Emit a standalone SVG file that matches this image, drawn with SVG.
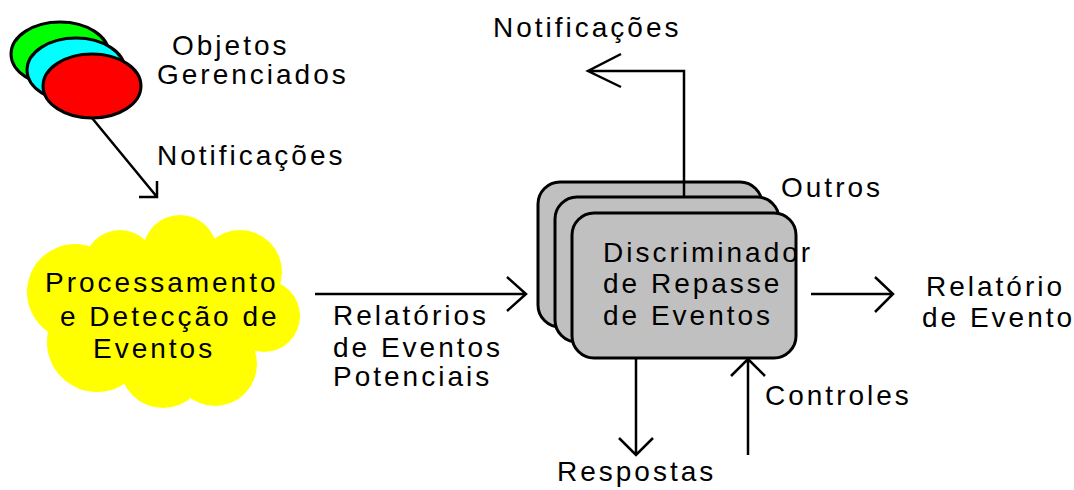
<svg xmlns="http://www.w3.org/2000/svg" width="1074" height="490" viewBox="0 0 1074 490">
<style>
text{font-family:"Liberation Sans",Arial,sans-serif;font-size:28px;letter-spacing:3px;fill:#000}
.ln{stroke:#000;stroke-width:2.5;fill:none}
.ell{stroke:#000;stroke-width:3}
.box{fill:#c0c0c0;stroke:#000;stroke-width:3}
.cl{fill:#ffff00}
</style>
<rect width="1074" height="490" fill="#fff"/>
<g id="objetos">
<ellipse class="ell" cx="60" cy="54" rx="49" ry="32" fill="#00ff00"/>
<ellipse class="ell" cx="76" cy="70" rx="49" ry="32" fill="#00ffff"/>
<ellipse class="ell" cx="92" cy="86" rx="49" ry="32" fill="#ff0000"/>
<text x="172" y="55">Objetos</text>
<text x="157" y="84">Gerenciados</text>
</g>
<g id="processamento">
<g class="cl">
<circle cx="180" cy="252" r="37"/>
<circle cx="120" cy="266" r="36"/>
<circle cx="75" cy="292" r="48"/>
<circle cx="240" cy="272" r="42"/>
<circle cx="264" cy="316" r="36"/>
<circle cx="215" cy="364" r="42"/>
<circle cx="163" cy="365" r="43"/>
<circle cx="97" cy="342" r="50"/>
<ellipse cx="170" cy="310" rx="100" ry="60"/>
</g>
<text x="45" y="292">Processamento</text>
<text x="60" y="326">e Detecção de</text>
<text x="93" y="358">Eventos</text>
</g>
<g id="discriminador">
<rect class="box" x="538" y="182" width="224" height="145" rx="22"/>
<rect class="box" x="555" y="197" width="224" height="145" rx="22"/>
<rect class="box" x="572" y="213" width="224" height="145" rx="22"/>
<text x="603" y="262">Discriminador</text>
<text x="603" y="293">de Repasse</text>
<text x="603" y="325">de Eventos</text>
</g>
<g id="connectors">
<path class="ln" d="M92,118 L157,197 M139,197 H157 V181"/>
<path class="ln" d="M315,294 H526 M507,277 L526,294 L507,311"/>
<path class="ln" d="M684,197 V71 H588 M621,54 L588,71 L621,87"/>
<path class="ln" d="M811,294 H893 M875,277 L893,294 L875,312"/>
<path class="ln" d="M636,358 V455 M619,438 L636,455 L653,438"/>
<path class="ln" d="M748,455 V359 M731,376 L748,359 L765,376"/>
</g>
<g id="labels">
<text x="157" y="165">Notificações</text>
<text x="493" y="37">Notificações</text>
<text x="333" y="325">Relatórios</text>
<text x="333" y="357">de Eventos</text>
<text x="333" y="386">Potenciais</text>
<text x="781" y="197">Outros</text>
<text x="926" y="296">Relatório</text>
<text x="922" y="327">de Evento</text>
<text x="765" y="405">Controles</text>
<text x="557" y="481">Respostas</text>
</g>
</svg>
